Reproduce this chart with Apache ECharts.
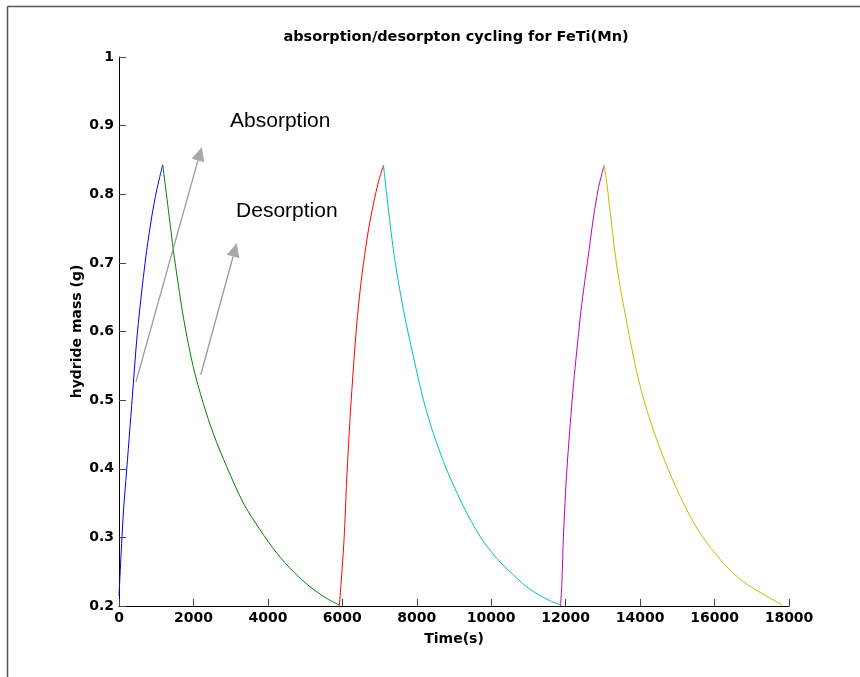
<!DOCTYPE html>
<html>
<head>
<meta charset="utf-8">
<script src="https://cdn.jsdelivr.net/npm/echarts@6/dist/echarts.min.js"></script>
<style>
  html, body { margin: 0; padding: 0; background: #fff; }
  #chart { width: 860px; height: 677px; }
</style>
</head>
<body>
<div id="chart"></div>
<script>
// Hydride mass (g) against time (s), three absorption / desorption cycles.
const absorption1 = [[0,0.215],[116,0.335],[206,0.398],[296,0.461],[385,0.524],[475,0.587],[565,0.636],[654,0.679],[744,0.718],[879,0.767],[1013,0.806],[1175,0.843]];
const desorption1 = [[1175,0.843],[1416,0.738],[1460,0.718],[1729,0.621],[1997,0.548],[2266,0.495],[2535,0.451],[2894,0.403],[3341,0.350],[3790,0.311],[4239,0.277],[4685,0.250],[5134,0.228],[5583,0.211],[5922,0.2015]];
const absorption2 = [[5920,0.200],[6030,0.282],[6075,0.330],[6121,0.388],[6210,0.476],[6299,0.548],[6390,0.612],[6478,0.660],[6567,0.699],[6702,0.748],[6836,0.786],[6970,0.818],[7105,0.842]];
const desorption2 = [[7105,0.842],[7374,0.718],[7643,0.631],[7911,0.563],[8180,0.500],[8449,0.451],[8808,0.398],[9256,0.345],[9704,0.301],[10153,0.269],[10601,0.245],[11048,0.224],[11497,0.210],[11855,0.2015]];
const absorption3 = [[11862,0.200],[11898,0.233],[11943,0.306],[12032,0.398],[12124,0.466],[12212,0.524],[12301,0.573],[12392,0.621],[12480,0.660],[12615,0.713],[12749,0.767],[12884,0.810],[13018,0.839],[13038,0.842]];
const desorption3 = [[13038,0.842],[13108,0.815],[13377,0.694],[13646,0.612],[13915,0.540],[14184,0.485],[14600,0.420],[15100,0.357],[15600,0.307],[16245,0.262],[16782,0.235],[17409,0.214],[17813,0.2015]];

const curveColors = ['#0000ff', '#008000', '#ff0000', '#00bfbf', '#bf00bf', '#bfbf00'];
const curves = [absorption1, desorption1, absorption2, desorption2, absorption3, desorption3];

// Annotation text and arrows, in data units (time, mass)
const noteLabels = ['Absorption', 'Desorption'];
const notePositions = [[2984, 0.906], [3145, 0.775]];
const arrowStarts = [[457, 0.527], [2196, 0.537]];
const arrowTips = [[2223, 0.869], [3164, 0.729]];

const tickFont = { fontFamily: 'DejaVu Sans', fontWeight: 'bold', fontSize: 14, color: '#000' };

const chart = echarts.init(document.getElementById('chart'), null, { renderer: 'canvas' });

chart.setOption({
  animation: false,
  backgroundColor: '#fff',
  title: {
    text: 'absorption/desorpton cycling for FeTi(Mn)',
    left: 456,
    top: 30,
    padding: 0,
    textAlign: 'center',
    textStyle: { fontFamily: 'DejaVu Sans', fontWeight: 'bold', fontSize: 14.5, color: '#000' }
  },
  grid: { left: 119, top: 57, right: 71, bottom: 71, containLabel: false },
  xAxis: {
    type: 'value',
    min: 0, max: 18000, interval: 2000,
    name: 'Time(s)',
    nameLocation: 'middle',
    nameGap: 26,
    nameMoveOverlap: false,
    nameTextStyle: tickFont,
    axisLine: { show: true, lineStyle: { color: '#000', width: 1 } },
    axisTick: { show: true, inside: true, length: 7, lineStyle: { color: '#444' } },
    axisLabel: Object.assign({ margin: 5, formatter: v => String(v) }, tickFont),
    splitLine: { show: false }
  },
  yAxis: {
    type: 'value',
    min: 0.2, max: 1, interval: 0.1,
    name: 'hydride mass (g)',
    nameLocation: 'middle',
    nameGap: 35,
    nameMoveOverlap: false,
    nameRotate: 90,
    nameTextStyle: tickFont,
    axisLine: { show: true, lineStyle: { color: '#000', width: 1 } },
    axisTick: { show: true, inside: true, length: 7, lineStyle: { color: '#444' } },
    axisLabel: Object.assign({ margin: 5, formatter: v => String(+v.toFixed(1)) }, tickFont),
    splitLine: { show: false }
  },
  series: curves.map((d, i) => ({
    type: 'line',
    data: d,
    showSymbol: false,
    symbol: 'none',
    smooth: 0.3,
    lineStyle: { color: curveColors[i], width: 1 },
    z: 3
  }))
});

// Overlay: outer frame, annotation arrows and labels placed through the axis scales
function buildOverlay() {
  const els = [
    { type: 'line', shape: { x1: 7.5, y1: 6.5, x2: 860, y2: 6.5 }, style: { stroke: '#555', lineWidth: 1.5 }, silent: true },
    { type: 'line', shape: { x1: 7.5, y1: 6.5, x2: 7.5, y2: 677 }, style: { stroke: '#555', lineWidth: 1.5 }, silent: true }
  ];
  arrowStarts.forEach((s, i) => {
    const p0 = chart.convertToPixel({ gridIndex: 0 }, s);
    const p1 = chart.convertToPixel({ gridIndex: 0 }, arrowTips[i]);
    const dx = p1[0] - p0[0], dy = p1[1] - p0[1];
    const len = Math.hypot(dx, dy);
    const ux = dx / len, uy = dy / len;
    const headLen = 14, headHalf = 6.5;
    const bx = p1[0] - ux * headLen, by = p1[1] - uy * headLen;
    els.push({
      type: 'line',
      shape: { x1: p0[0], y1: p0[1], x2: bx, y2: by },
      style: { stroke: '#9a9a9a', lineWidth: 1.3 },
      silent: true, z: 10
    });
    els.push({
      type: 'polygon',
      shape: { points: [[p1[0], p1[1]], [bx - uy * headHalf, by + ux * headHalf], [bx + uy * headHalf, by - ux * headHalf]] },
      style: { fill: '#a8a8a8' },
      silent: true, z: 10
    });
  });
  noteLabels.forEach((t, i) => {
    const p = chart.convertToPixel({ gridIndex: 0 }, notePositions[i]);
    els.push({
      type: 'text',
      x: p[0], y: p[1],
      style: { text: t, fill: '#000', fontFamily: 'Liberation Sans', fontSize: 21, align: 'left', verticalAlign: 'middle' },
      silent: true, z: 10
    });
  });
  chart.setOption({ graphic: { elements: els } });
}
buildOverlay();
</script>
</body>
</html>
